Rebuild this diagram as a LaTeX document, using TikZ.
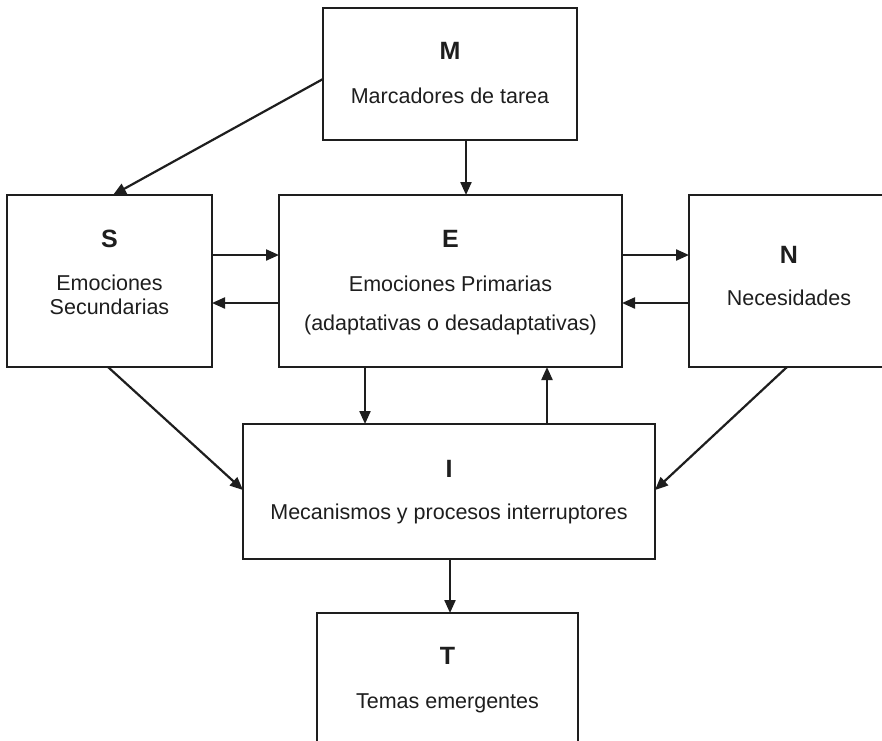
\documentclass[tikz,border=0pt]{standalone}
\usepackage{fontspec}
\setmainfont{Liberation Sans}
\usetikzlibrary{arrows.meta}
\definecolor{ink}{HTML}{1E1E1E}
\begin{document}
\begin{tikzpicture}[x=1pt,y=-1pt,
  box/.style={draw=ink,line width=2pt,rectangle,inner sep=0pt,outer sep=0pt},
  ttl/.style={font=\fontsize{25}{30}\selectfont\bfseries,text=ink,inner sep=0pt,anchor=base},
  txt/.style={font=\fontsize{21.5}{26}\selectfont,text=ink,inner sep=0pt,anchor=base},
  arr/.style={draw=ink,line width=2.2pt,-{Triangle[length=13pt,width=11pt]}}]
\useasboundingbox (0,0) rectangle (882,740);
\clip (0,0) rectangle (882,740);
\fill[white] (0,0) rectangle (882,740);
% boxes
\node[box,minimum width=254pt,minimum height=132pt] (M) at (450,74) {};
\node[box,minimum width=205pt,minimum height=172pt] (S) at (109.5,281) {};
\node[box,minimum width=343pt,minimum height=172pt] (E) at (450.5,281) {};
\node[box,minimum width=200pt,minimum height=172pt] (N) at (789,281) {};
\node[box,minimum width=412pt,minimum height=135pt] (I) at (449,491.5) {};
\node[box,minimum width=261pt,minimum height=136pt] (T) at (447.5,681) {};
% texts
\node[ttl] (Mt) at (450,59) {M};
\node[txt] (Mx) at (450,103) {Marcadores de tarea};
\node[ttl] (St) at (109.5,247) {S};
\node[txt] (Sx1) at (109.5,290) {Emociones};
\node[txt] (Sx2) at (109.5,314) {Secundarias};
\node[ttl] (Et) at (450.5,247) {E};
\node[txt] (Ex1) at (450.5,291) {Emociones Primarias};
\node[txt] (Ex2) at (450.5,330) {(adaptativas o desadaptativas)};
\node[ttl] (Nt) at (789,263) {N};
\node[txt] (Nx) at (789,305) {Necesidades};
\node[ttl] (It) at (449,477) {I};
\node[txt] (Ix) at (449,519) {Mecanismos y procesos interruptores};
\node[ttl] (Tt) at (447.5,664) {T};
\node[txt] (Tx) at (447.5,708) {Temas emergentes};
% connectors
\draw[arr] ([yshift=-5pt]M.west) -- ([xshift=3.5pt]S.north);
\draw[arr] ([xshift=16pt]M.south) -- ([xshift=16pt]M.south |- E.north);
\draw[arr] ([yshift=26pt]S.east) -- ([yshift=26pt]E.west);
\draw[arr] ([yshift=-22pt]E.west) -- ([yshift=-22pt]S.east);
\draw[arr] ([yshift=26pt]E.east) -- ([yshift=26pt]N.west);
\draw[arr] ([yshift=-22pt]N.west) -- ([yshift=-22pt]E.east);
\draw[arr] ([xshift=-85.5pt]E.south) -- ([xshift=-85.5pt]E.south |- I.north);
\draw[arr] ([xshift=96.5pt]E.south |- I.north) -- ([xshift=96.5pt]E.south);
\draw[arr] ([xshift=-1.5pt]S.south) -- ([yshift=1.5pt]I.west);
\draw[arr] ([xshift=-2pt]N.south) -- ([yshift=1.5pt]I.east);
\draw[arr] ([xshift=1pt]I.south) -- ([xshift=1pt]I.south |- T.north);
\end{tikzpicture}
\end{document}
